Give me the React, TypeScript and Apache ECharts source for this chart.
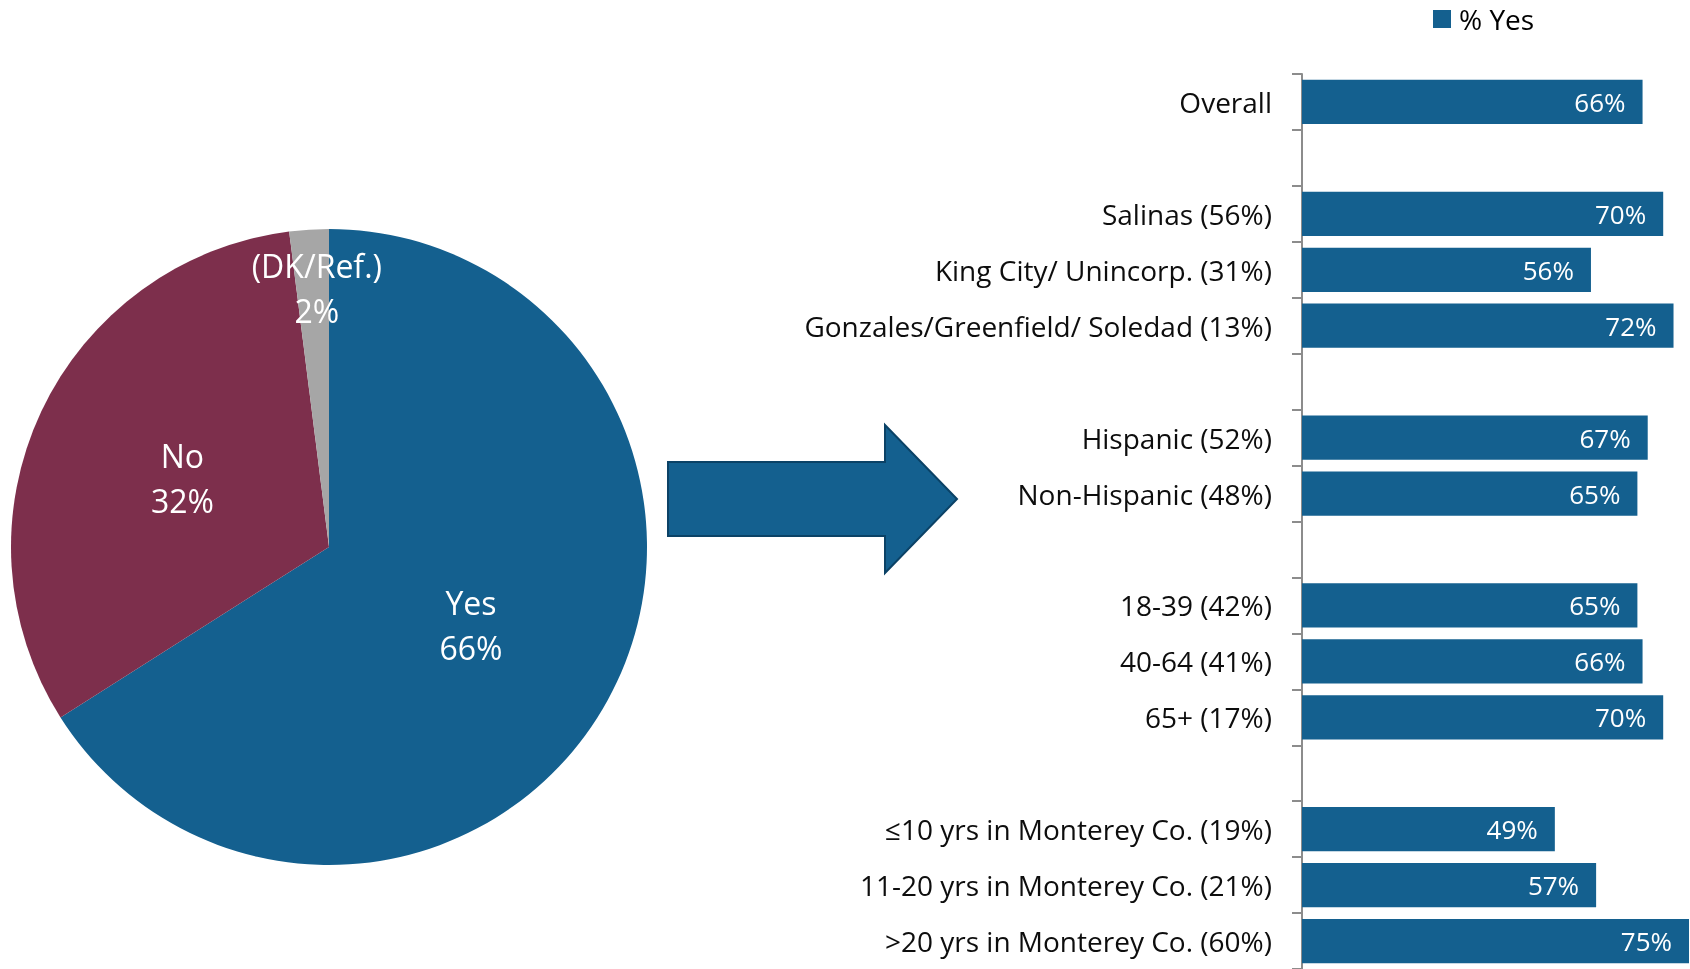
import React, { useEffect, useRef } from "react";
import * as echarts from "echarts";

const pieNames = ["Yes", "No", "(DK/Ref.)"];
const pieValues = [66, 32, 2];
const pieColors = ["#14608F", "#7D2F4C", "#A6A6A6"];

const barCategories = [
  "Overall",
  " ",
  "Salinas (56%)",
  "King City/ Unincorp. (31%)",
  "Gonzales/Greenfield/ Soledad (13%)",
  "  ",
  "Hispanic (52%)",
  "Non-Hispanic (48%)",
  "   ",
  "18-39 (42%)",
  "40-64 (41%)",
  "65+ (17%)",
  "    ",
  "≤10 yrs in Monterey Co. (19%)",
  "11-20 yrs in Monterey Co. (21%)",
  ">20 yrs in Monterey Co. (60%)",
];
const barValues: (number | string)[] = [66, "-", 70, 56, 72, "-", 67, 65, "-", 65, 66, 70, "-", 49, 57, 75];
const seriesName = "% Yes";

const FONT = "'Open Sans', 'Noto Sans', sans-serif";
const BLUE = "#14608F";

export default function App() {
  const ref = useRef<HTMLDivElement>(null);
  useEffect(() => {
    if (!ref.current) return;
    const chart = echarts.init(ref.current, null, { renderer: "svg" });
    chart.setOption({
      animation: false,
      textStyle: { fontFamily: FONT },
      legend: {
        data: [seriesName],
        left: 1433,
        top: 5,
        padding: 0,
        itemWidth: 18,
        itemHeight: 18,
        icon: "rect",
        textStyle: { fontSize: 28, color: "#000", fontFamily: FONT, padding: [0, 0, 0, 3] },
      },
      grid: { left: 1302, right: 1, top: 74, height: 900, containLabel: false },
      xAxis: {
        type: "value",
        min: 0,
        max: 75,
        show: false,
        splitLine: { show: false },
      },
      yAxis: {
        type: "category",
        inverse: true,
        data: barCategories,
        axisLine: { show: true, lineStyle: { color: "#8C8C8C", width: 2 } },
        axisTick: { show: true, length: 10, lineStyle: { color: "#8C8C8C", width: 2 } },
        axisLabel: { fontSize: 28, color: "#0D0D0D", margin: 30, fontFamily: FONT },
      },
      series: [
        {
          type: "pie",
          center: [329, 547],
          radius: 318,
          startAngle: 90,
          clockwise: true,
          data: pieNames.map((n, i) => ({ name: n, value: pieValues[i], itemStyle: { color: pieColors[i] } })),
          label: {
            show: true,
            position: "inside",
            formatter: "{b}\n{c}%",
            color: "#fff",
            fontSize: 32,
            lineHeight: 45,
            fontFamily: FONT,
          },
          labelLine: { show: false },
          labelLayout: (params: any) => (params.dataIndex === 2 ? { dx: -2, dy: -97 } : {}),
          itemStyle: { borderWidth: 0 },
          emphasis: { disabled: true },
          silent: true,
        },
        {
          type: "bar",
          name: seriesName,
          data: barValues,
          barCategoryGap: "21%",
          itemStyle: { color: BLUE },
          label: {
            show: true,
            position: "insideRight",
            distance: 17,
            formatter: "{c}%",
            color: "#fff",
            fontSize: 26,
            fontFamily: FONT,
          },
          silent: true,
        },
      ],
      graphic: [
        {
          type: "polygon",
          shape: {
            points: [
              [668, 462],
              [885, 462],
              [885, 425],
              [957, 499],
              [885, 573],
              [885, 536],
              [668, 536],
            ],
          },
          style: { fill: BLUE, stroke: "#0B4266", lineWidth: 2 },
        },
      ],
    });
    return () => chart.dispose();
  }, []);
  return <div ref={ref} style={{ position: "fixed", left: 0, top: 0, width: 1690, height: 969 }} />;
}
